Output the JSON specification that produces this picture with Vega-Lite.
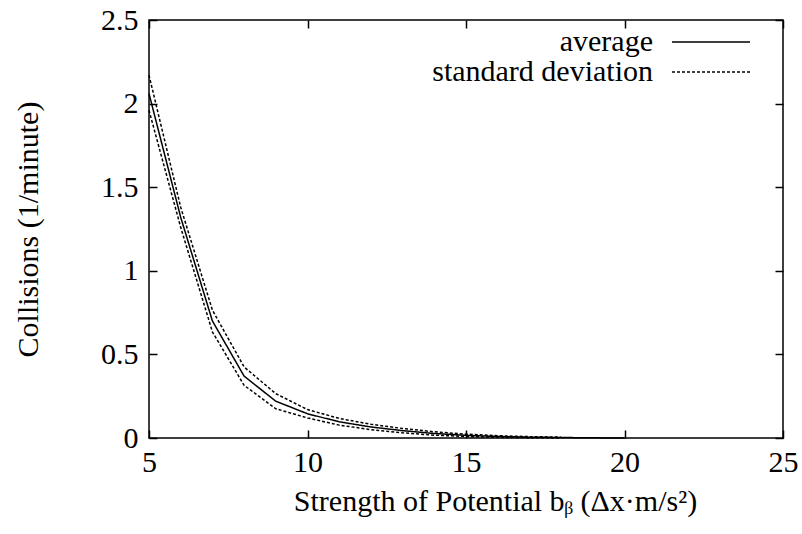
{
  "$schema": "https://vega.github.io/schema/vega-lite/v6.json",
  "width": 634,
  "height": 418,
  "autosize": {"type": "none"},
  "padding": {"left": 149, "top": 20, "right": 19, "bottom": 96},
  "background": "white",
  "config": {
    "font": "Liberation Serif",
    "view": {"stroke": "black", "strokeWidth": 1.5},
    "axis": {
      "labelFont": "Liberation Serif",
      "titleFont": "Liberation Serif",
      "labelFontSize": 30,
      "titleFontSize": 30,
      "labelColor": "black",
      "titleColor": "black",
      "titleFontWeight": "normal",
      "labelFlush": false,
      "grid": false,
      "domain": false,
      "tickColor": "black",
      "tickWidth": 1.5,
      "tickSize": -8
    },
    "legend": {
      "labelFont": "Liberation Serif",
      "labelFontSize": 30,
      "labelColor": "black"
    }
  },
  "data": {
    "values": [
      {"x": 5, "series": "average", "kind": "average", "y": 2.06},
      {"x": 6, "series": "average", "kind": "average", "y": 1.32},
      {"x": 7, "series": "average", "kind": "average", "y": 0.7},
      {"x": 8, "series": "average", "kind": "average", "y": 0.37},
      {"x": 9, "series": "average", "kind": "average", "y": 0.22},
      {"x": 10, "series": "average", "kind": "average", "y": 0.145},
      {"x": 11, "series": "average", "kind": "average", "y": 0.097},
      {"x": 12, "series": "average", "kind": "average", "y": 0.066},
      {"x": 13, "series": "average", "kind": "average", "y": 0.044},
      {"x": 14, "series": "average", "kind": "average", "y": 0.027},
      {"x": 15, "series": "average", "kind": "average", "y": 0.016},
      {"x": 16, "series": "average", "kind": "average", "y": 0.009},
      {"x": 17, "series": "average", "kind": "average", "y": 0.005},
      {"x": 18, "series": "average", "kind": "average", "y": 0.003},
      {"x": 19, "series": "average", "kind": "average", "y": 0.001},
      {"x": 20, "series": "average", "kind": "average", "y": 0.0},
      {"x": 5, "series": "upper", "kind": "standard deviation", "y": 2.17},
      {"x": 6, "series": "upper", "kind": "standard deviation", "y": 1.38},
      {"x": 7, "series": "upper", "kind": "standard deviation", "y": 0.765},
      {"x": 8, "series": "upper", "kind": "standard deviation", "y": 0.425},
      {"x": 9, "series": "upper", "kind": "standard deviation", "y": 0.265},
      {"x": 10, "series": "upper", "kind": "standard deviation", "y": 0.17},
      {"x": 11, "series": "upper", "kind": "standard deviation", "y": 0.117},
      {"x": 12, "series": "upper", "kind": "standard deviation", "y": 0.082},
      {"x": 13, "series": "upper", "kind": "standard deviation", "y": 0.057},
      {"x": 14, "series": "upper", "kind": "standard deviation", "y": 0.037},
      {"x": 15, "series": "upper", "kind": "standard deviation", "y": 0.023},
      {"x": 16, "series": "upper", "kind": "standard deviation", "y": 0.014},
      {"x": 17, "series": "upper", "kind": "standard deviation", "y": 0.008},
      {"x": 18, "series": "upper", "kind": "standard deviation", "y": 0.005},
      {"x": 5, "series": "lower", "kind": "standard deviation", "y": 1.96},
      {"x": 6, "series": "lower", "kind": "standard deviation", "y": 1.26},
      {"x": 7, "series": "lower", "kind": "standard deviation", "y": 0.635},
      {"x": 8, "series": "lower", "kind": "standard deviation", "y": 0.315},
      {"x": 9, "series": "lower", "kind": "standard deviation", "y": 0.175},
      {"x": 10, "series": "lower", "kind": "standard deviation", "y": 0.12},
      {"x": 11, "series": "lower", "kind": "standard deviation", "y": 0.077},
      {"x": 12, "series": "lower", "kind": "standard deviation", "y": 0.05},
      {"x": 13, "series": "lower", "kind": "standard deviation", "y": 0.031},
      {"x": 14, "series": "lower", "kind": "standard deviation", "y": 0.017},
      {"x": 15, "series": "lower", "kind": "standard deviation", "y": 0.009},
      {"x": 16, "series": "lower", "kind": "standard deviation", "y": 0.004},
      {"x": 17, "series": "lower", "kind": "standard deviation", "y": 0.002},
      {"x": 18, "series": "lower", "kind": "standard deviation", "y": 0.001}
    ]
  },
  "layer": [
    {
      "mark": {"type": "line", "color": "black", "strokeWidth": 1.5},
      "encoding": {
        "x": {
          "field": "x", "type": "quantitative",
          "scale": {"domain": [5, 25], "nice": false, "zero": false},
          "axis": {"values": [5, 10, 15, 20, 25], "format": "d", "labelPadding": 17, "labelBaseline": "top", "title": "Strength of Potential bᵦ (Δx·m/s²)", "titlePadding": 9, "titleX": 346, "titleAlign": "center"}
        },
        "y": {
          "field": "y", "type": "quantitative",
          "scale": {"domain": [0, 2.5], "nice": false},
          "axis": {"values": [0, 0.5, 1, 1.5, 2, 2.5], "format": "~g", "labelPadding": 19, "title": "Collisions (1/minute)", "titlePadding": 57}
        },
        "detail": {"field": "series"},
        "strokeDash": {
          "field": "kind", "type": "nominal",
          "scale": {"domain": ["average", "standard deviation"], "range": [[1, 0], [3, 2]]},
          "legend": {
            "title": null,
            "orient": "none",
            "legendX": 547,
            "legendY": 7,
            "symbolType": "M-6,0H6",
            "symbolSize": 169,
            "symbolStrokeWidth": 1.5,
            "symbolStrokeColor": "black",
            "labelAlign": "right",
            "labelOffset": -73,
            "labelLimit": 500,
            "rowPadding": 0,
            "padding": 0
          }
        }
      }
    },
    {
      "mark": {"type": "point", "opacity": 0},
      "encoding": {
        "x": {"field": "x", "type": "quantitative", "axis": {"orient": "top", "values": [5, 10, 15, 20, 25], "labels": false, "title": null}},
        "y": {"field": "y", "type": "quantitative", "axis": {"orient": "right", "values": [0, 0.5, 1, 1.5, 2, 2.5], "labels": false, "title": null}}
      }
    }
  ],
  "resolve": {"axis": {"x": "independent", "y": "independent"}}
}
